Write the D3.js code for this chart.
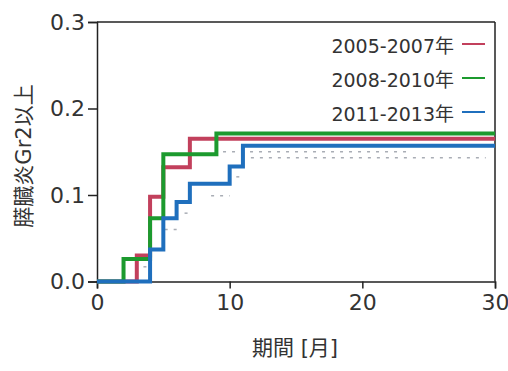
<!DOCTYPE html>
<html>
<head>
<meta charset="utf-8">
<script src="https://cdn.jsdelivr.net/npm/d3@7"></script>
<style>
  body { margin: 0; background: #fff; }
  text { font-family: "DejaVu Sans", "Noto Sans CJK JP", sans-serif; fill: #333; }
</style>
</head>
<body>
<div id="chart"></div>
<script>
var w = 508;
var h = 371;

// step data: time [months] where the step starts, and cumulative value
var redTimes = [0, 3, 4, 5, 7, 30];
var redValues = [0, 0.030, 0.098, 0.132, 0.165, 0.165];
var greenTimes = [0, 2, 4, 5, 9, 30];
var greenValues = [0, 0.026, 0.073, 0.147, 0.171, 0.171];
var blueTimes = [0, 4, 5, 6, 7, 10, 11, 30];
var blueValues = [0, 0.037, 0.073, 0.092, 0.113, 0.133, 0.157, 0.157];

// faint gray dashes under the curves
var grayStart = [3.5, 5.1, 6.6, 8.6, 10.5, 9.5, 11.6];
var grayEnd = [3.8, 6.1, 6.9, 10.0, 11.1, 23.3, 29.3];
var grayValue = [0.017, 0.060, 0.079, 0.099, 0.121, 0.150, 0.143];

var legendNames = ["2005-2007年", "2008-2010年", "2011-2013年"];
var colors = ["#c2405c", "#1c9a2e", "#1f6fbd"];
var xTicks = [0, 10, 20, 30];
var yTicks = [0, 0.1, 0.2, 0.3];

var svg = d3.select("#chart")
  .append("svg")
  .attr("width", w)
  .attr("height", h);

var x = d3.scaleLinear().domain([0, 30]).range([97, 495]);
var y = d3.scaleLinear().domain([0, 0.3]).range([281.5, 22]);

//frame top and right
svg.append("line")
  .attr("x1", x(0)).attr("x2", x(30))
  .attr("y1", y(0.3)).attr("y2", y(0.3))
  .attr("stroke", "#222").attr("stroke-width", 1.5);
svg.append("line")
  .attr("x1", x(30)).attr("x2", x(30))
  .attr("y1", y(0.3)).attr("y2", y(0))
  .attr("stroke", "#222").attr("stroke-width", 1.5);

var xAxis = svg.append("g")
  .attr("transform", "translate(0," + y(0) + ")")
  .call(d3.axisBottom(x).tickValues(xTicks).tickSize(7).tickPadding(6).tickFormat(d3.format("d")));

var yAxis = svg.append("g")
  .attr("transform", "translate(" + x(0) + ",0)")
  .call(d3.axisLeft(y).tickValues(yTicks).tickSize(9).tickPadding(3).tickFormat(d3.format(".1f")));

[xAxis, yAxis].forEach(function(a) {
  a.select(".domain").attr("stroke", "#222").attr("stroke-width", 1.5);
  a.selectAll(".tick line").attr("stroke", "#222").attr("stroke-width", 1.5);
  a.selectAll(".tick text")
    .style("font-size", "22px")
    .style("font-family", "'DejaVu Sans', sans-serif")
    .attr("fill", "#555");
});

//gray dashes
svg.selectAll("line.gray")
  .data(grayValue)
  .enter()
  .append("line")
  .attr("class", "gray")
  .attr("x1", function(d, i) { return x(grayStart[i]); })
  .attr("x2", function(d, i) { return x(grayEnd[i]); })
  .attr("y1", function(d) { return y(d); })
  .attr("y2", function(d) { return y(d); })
  .attr("stroke", "#a9adb5")
  .attr("stroke-width", 1.5)
  .attr("stroke-dasharray", "3,6");

var line = d3.line()
  .x(function(d) { return x(d[0]); })
  .y(function(d) { return y(d[1]); })
  .curve(d3.curveStepAfter);

var series = [
  d3.zip(redTimes, redValues),
  d3.zip(greenTimes, greenValues),
  d3.zip(blueTimes, blueValues)
];

svg.selectAll("path.step")
  .data(series)
  .enter()
  .append("path")
  .attr("class", "step")
  .attr("d", line)
  .attr("fill", "none")
  .attr("stroke", function(d, i) { return colors[i]; })
  .attr("stroke-width", 4);

//legend
var legend = svg.selectAll("g.leg")
  .data(legendNames)
  .enter()
  .append("g")
  .attr("class", "leg")
  .attr("transform", function(d, i) { return "translate(0," + (53 + i * 34) + ")"; });

legend.append("text")
  .attr("x", 454)
  .attr("text-anchor", "end")
  .style("font-size", "19px")
  .text(function(d) { return d; });

legend.append("line")
  .attr("x1", 462).attr("x2", 485)
  .attr("y1", -9).attr("y2", -9)
  .attr("stroke", function(d, i) { return colors[i]; })
  .attr("stroke-width", 2);

//axis titles
svg.append("text")
  .attr("x", 295)
  .attr("y", 355)
  .attr("text-anchor", "middle")
  .style("font-size", "21px")
  .text("期間 [月]");

svg.append("text")
  .attr("transform", "translate(31,156) rotate(-90)")
  .attr("text-anchor", "middle")
  .style("font-size", "21px")
  .text("膵臓炎Gr2以上");
</script>
</body>
</html>
